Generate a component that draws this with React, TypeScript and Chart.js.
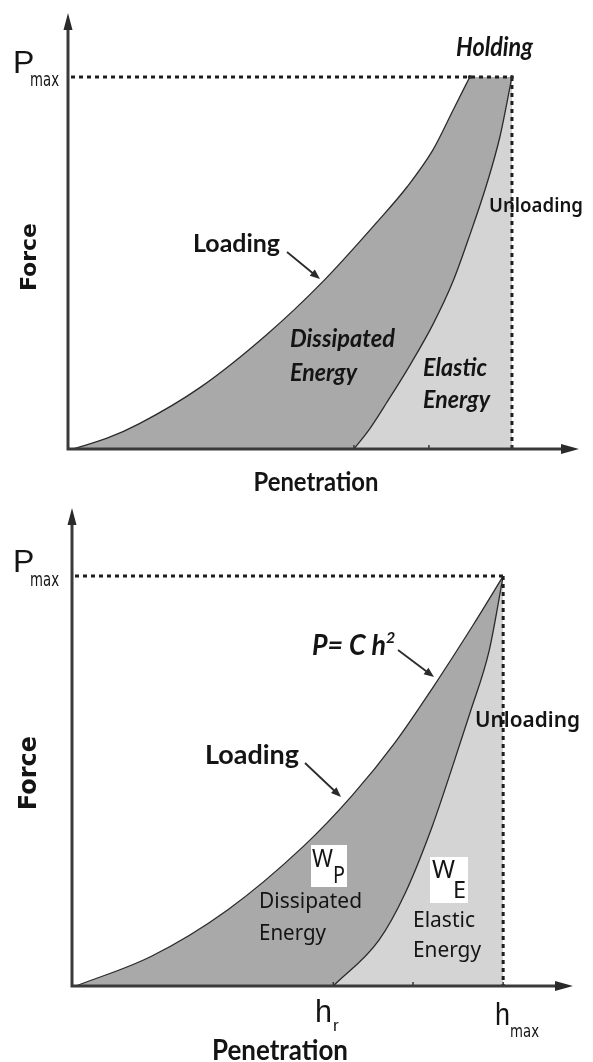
import { useEffect, useRef } from "react";
import { Chart, registerables } from "chart.js";

Chart.register(...registerables);

// ---- Upper diagram: load / hold / unload cycle (penetration h, force P; h_max = P_max = 100) ----
const holdLoadingH = [1.1, 8.8, 16.2, 29.7, 44.8, 57.4, 69.6, 76.4, 82.2, 86.7, 90.5];
const holdLoadingP = [0, 2.9, 6.9, 16.5, 30.8, 45.0, 61.0, 70.5, 80.4, 91.0, 100];
// holding at P_max (starts just inside the end of the loading branch so the fills join)
const holdingH = [89.6, 90.5, 100];
const holdingP = [97.6, 100, 100];
const holdUnloadingH = [64.4, 68.0, 71.8, 77.0, 82.2, 86.7, 90.5, 94.4, 97.3, 100];
const holdUnloadingP = [0, 5.5, 12.5, 22.5, 33.5, 45.0, 57.5, 71.5, 84.0, 100];
const holdTicksH = [64.4, 81.3, 100];

// ---- Lower diagram: load (P = C h^2) / unload cycle ----
const loadingH = [0.9, 18.3, 36.0, 53.6, 65.0, 75.0, 83.5, 93.0, 100];
const loadingP = [0, 7.2, 18.5, 34.0, 46.5, 59.5, 72.5, 88.0, 100];
const unloadingH = [60.6, 71.2, 77.3, 83.5, 88.4, 92.3, 96.8, 100];
const unloadingP = [0, 11.2, 22.7, 38.8, 54.0, 66.6, 82.0, 100];
const ticksH = [60.6, 79.1, 100];

const H_MAX = 100;
const P_MAX = 100;

const DARK_FILL = "#a9a9a9";
const LIGHT_FILL = "#d4d4d4";
const INK = "#2b2b2b";

type Label = {
  text: string;
  x: number;
  y: number;
  font: string;
  w?: number;
  align?: CanvasTextAlign;
  rotate?: boolean;
};
type BoxRect = { x: number; y: number; w: number; h: number };
type Arrow = { x1: number; y1: number; x2: number; y2: number };

type Panel = {
  width: number;
  height: number;
  padding: { left: number; right: number; top: number; bottom: number };
  xMax: number;
  yMax: number;
  loadH: number[];
  loadP: number[];
  holdH: number[];
  holdP: number[];
  unloadH: number[];
  unloadP: number[];
  ticks: number[];
  labels: Label[];
  boxes: BoxRect[];
  arrows: Arrow[];
};

const pts = (xs: number[], ys: number[]) => xs.map((x, i) => ({ x, y: ys[i] }));

const BOLD = (s: number) => `bold ${s}px Lato, "Open Sans", sans-serif`;
const WIDEBOLD = (s: number) => `bold ${s}px "DejaVu Sans", Verdana, sans-serif`;
const ITAL = (s: number) => `italic bold ${s}px Lato, "Open Sans", sans-serif`;
const REG = (s: number) => `${s}px "Noto Sans", "DejaVu Sans", sans-serif`;
const SEMI = (s: number) => `600 ${s}px "Noto Sans", "Open Sans", sans-serif`;
const THIN = (s: number) => `${s}px "Liberation Sans", Arial, sans-serif`;
const NARROW = (s: number) => `${s}px "Liberation Sans Narrow", "DejaVu Sans Condensed", sans-serif`;

const topPanel: Panel = {
  width: 593,
  height: 500,
  padding: { left: 68, right: 14, top: 13, bottom: 51 },
  xMax: 115.1,
  yMax: 117.2,
  loadH: holdLoadingH,
  loadP: holdLoadingP,
  holdH: holdingH,
  holdP: holdingP,
  unloadH: holdUnloadingH,
  unloadP: holdUnloadingP,
  ticks: holdTicksH,
  labels: [
    { text: "P", x: 13, y: 73, font: THIN(32) },
    { text: "max", x: 30, y: 86, font: NARROW(19), w: 29 },
    { text: "Holding", x: 456, y: 56, font: ITAL(26), w: 77 },
    { text: "Unloading", x: 489, y: 212, font: SEMI(20), w: 94 },
    { text: "Loading", x: 193, y: 252, font: BOLD(25), w: 87 },
    { text: "Force", x: 30, y: 257, font: WIDEBOLD(22), w: 73, align: "center", rotate: true },
    { text: "Penetration", x: 316, y: 491, font: BOLD(26), w: 125, align: "center" },
    { text: "Dissipated", x: 290, y: 347, font: ITAL(25), w: 105 },
    { text: "Energy", x: 290, y: 381, font: ITAL(25), w: 67 },
    { text: "Elastic", x: 423, y: 376, font: ITAL(25), w: 64 },
    { text: "Energy", x: 423, y: 408, font: ITAL(25), w: 67 },
  ],
  boxes: [],
  arrows: [{ x1: 287, y1: 252, x2: 320, y2: 279 }],
};

const bottomPanel: Panel = {
  width: 593,
  height: 562,
  padding: { left: 72, right: 20, top: 8, bottom: 76 },
  xMax: 116.2,
  yMax: 116.6,
  loadH: loadingH,
  loadP: loadingP,
  holdH: [],
  holdP: [],
  unloadH: unloadingH,
  unloadP: unloadingP,
  ticks: ticksH,
  labels: [
    { text: "P", x: 13, y: 72, font: THIN(32) },
    { text: "max", x: 30, y: 86, font: NARROW(19), w: 29 },
    { text: "P= C h", x: 312, y: 155, font: ITAL(28), w: 74 },
    { text: "2", x: 386, y: 143, font: ITAL(16) },
    { text: "Unloading", x: 475, y: 227, font: SEMI(21), w: 105 },
    { text: "Loading", x: 205, y: 264, font: BOLD(27), w: 94 },
    { text: "Force", x: 30, y: 273, font: WIDEBOLD(24), w: 80, align: "center", rotate: true },
    { text: "W", x: 312, y: 367, font: REG(26), w: 21 },
    { text: "P", x: 333, y: 383, font: REG(24), w: 12 },
    { text: "Dissipated", x: 259, y: 408, font: REG(22), w: 103 },
    { text: "Energy", x: 259, y: 440, font: REG(22), w: 67 },
    { text: "W", x: 432, y: 378, font: REG(26), w: 23 },
    { text: "E", x: 453, y: 398, font: REG(24), w: 13 },
    { text: "Elastic", x: 413, y: 427, font: REG(22), w: 62 },
    { text: "Energy", x: 413, y: 457, font: REG(22), w: 68 },
    { text: "h", x: 315, y: 522, font: THIN(31), w: 17 },
    { text: "r", x: 333, y: 531, font: THIN(17) },
    { text: "h", x: 495, y: 525, font: THIN(31), w: 15 },
    { text: "max", x: 510, y: 537, font: NARROW(17), w: 29 },
    { text: "Penetration", x: 280, y: 560, font: BOLD(28), w: 136, align: "center" },
  ],
  boxes: [
    { x: 311, y: 345, w: 36, h: 42 },
    { x: 430, y: 357, w: 38, h: 46 },
  ],
  arrows: [
    { x1: 398, y1: 150, x2: 434, y2: 177 },
    { x1: 305, y1: 263, x2: 341, y2: 297 },
  ],
};

function drawArrow(ctx: CanvasRenderingContext2D, a: Arrow, len = 10, half = 4) {
  const ang = Math.atan2(a.y2 - a.y1, a.x2 - a.x1);
  ctx.strokeStyle = INK;
  ctx.fillStyle = INK;
  ctx.lineWidth = 1.8;
  ctx.beginPath();
  ctx.moveTo(a.x1, a.y1);
  ctx.lineTo(a.x2 - Math.cos(ang) * len * 0.8, a.y2 - Math.sin(ang) * len * 0.8);
  ctx.stroke();
  ctx.beginPath();
  ctx.moveTo(a.x2, a.y2);
  ctx.lineTo(
    a.x2 - Math.cos(ang) * len - Math.sin(ang) * half,
    a.y2 - Math.sin(ang) * len + Math.cos(ang) * half
  );
  ctx.lineTo(
    a.x2 - Math.cos(ang) * len + Math.sin(ang) * half,
    a.y2 - Math.sin(ang) * len - Math.cos(ang) * half
  );
  ctx.closePath();
  ctx.fill();
}

function schematicPlugin(panel: Panel) {
  return {
    id: "schematic",
    afterDatasetsDraw(chart: Chart) {
      const ctx = chart.ctx;
      const xs = chart.scales.x;
      const ys = chart.scales.y;
      const area = chart.chartArea;
      const x0 = xs.getPixelForValue(0);
      const y0 = ys.getPixelForValue(0);
      const xh = xs.getPixelForValue(H_MAX);
      const yp = ys.getPixelForValue(P_MAX);
      ctx.save();

      // dashed guides at P_max and h_max
      ctx.strokeStyle = "#1e1e1e";
      ctx.lineWidth = 3;
      ctx.setLineDash([4, 4]);
      ctx.beginPath();
      ctx.moveTo(x0 + 3, yp);
      ctx.lineTo(xh, yp);
      ctx.moveTo(xh, yp);
      ctx.lineTo(xh, y0);
      ctx.stroke();
      ctx.setLineDash([]);

      // axes with arrow heads
      ctx.strokeStyle = "#3a3a3a";
      ctx.fillStyle = "#2a2a2a";
      ctx.lineWidth = 3;
      ctx.beginPath();
      ctx.moveTo(x0, y0 + 1.5);
      ctx.lineTo(x0, area.top + 12);
      ctx.moveTo(x0 - 1.5, y0);
      ctx.lineTo(area.right - 14, y0);
      ctx.stroke();
      ctx.beginPath();
      ctx.moveTo(x0, area.top);
      ctx.lineTo(x0 - 4.5, area.top + 17);
      ctx.lineTo(x0 + 4.5, area.top + 17);
      ctx.closePath();
      ctx.fill();
      ctx.beginPath();
      ctx.moveTo(area.right, y0);
      ctx.lineTo(area.right - 18, y0 - 5);
      ctx.lineTo(area.right - 18, y0 + 5);
      ctx.closePath();
      ctx.fill();

      // small ticks on the penetration axis
      ctx.lineWidth = 1.5;
      ctx.beginPath();
      panel.ticks.forEach((t) => {
        const px = xs.getPixelForValue(t);
        ctx.moveTo(px, y0 - 4);
        ctx.lineTo(px, y0);
      });
      ctx.stroke();

      // end points of the holding segment
      if (panel.holdH.length) {
        ctx.fillStyle = INK;
        const n = panel.loadH.length - 1;
        [
          [panel.loadH[n], panel.loadP[n]],
          [H_MAX, P_MAX],
        ].forEach(([h, p]) => {
          ctx.beginPath();
          ctx.arc(xs.getPixelForValue(h), ys.getPixelForValue(p), 2, 0, Math.PI * 2);
          ctx.fill();
        });
      }

      // white boxes behind the work symbols
      ctx.fillStyle = "#ffffff";
      panel.boxes.forEach((b) => ctx.fillRect(b.x, b.y, b.w, b.h));

      panel.arrows.forEach((a) => drawArrow(ctx, a));

      ctx.fillStyle = "#141414";
      ctx.textBaseline = "alphabetic";
      panel.labels.forEach((l) => {
        ctx.font = l.font;
        ctx.textAlign = l.align || "left";
        if (l.rotate) {
          ctx.save();
          ctx.translate(l.x, l.y);
          ctx.rotate(-Math.PI / 2);
          ctx.textBaseline = "middle";
          if (l.w) ctx.fillText(l.text, 0, 0, l.w);
          else ctx.fillText(l.text, 0, 0);
          ctx.restore();
        } else if (l.w) {
          ctx.fillText(l.text, l.x, l.y, l.w);
        } else {
          ctx.fillText(l.text, l.x, l.y);
        }
      });
      ctx.restore();
    },
  };
}

function IndentationPanel({ panel }: { panel: Panel }) {
  const ref = useRef<HTMLCanvasElement | null>(null);
  useEffect(() => {
    if (!ref.current) return;
    const curve = {
      borderColor: INK,
      borderWidth: 1.3,
      fill: "origin" as const,
      pointRadius: 0,
      cubicInterpolationMode: "monotone" as const,
      clip: false as const,
    };
    const datasets: any[] = [
      { ...curve, label: "Unloading", data: pts(panel.unloadH, panel.unloadP), backgroundColor: LIGHT_FILL, order: 1 },
      { ...curve, label: "Loading", data: pts(panel.loadH, panel.loadP), backgroundColor: DARK_FILL, order: 2 },
    ];
    if (panel.holdH.length) {
      datasets.push({
        ...curve,
        label: "Holding",
        data: pts(panel.holdH, panel.holdP),
        backgroundColor: DARK_FILL,
        borderWidth: 0,
        cubicInterpolationMode: "default",
        tension: 0,
        order: 3,
      });
    }
    const chart = new Chart(ref.current, {
      type: "line",
      data: { datasets },
      options: {
        animation: false,
        responsive: false,
        maintainAspectRatio: false,
        events: [],
        layout: { padding: panel.padding },
        scales: {
          x: { type: "linear", min: 0, max: panel.xMax, display: false },
          y: { type: "linear", min: 0, max: panel.yMax, display: false },
        },
        plugins: {
          legend: { display: false },
          tooltip: { enabled: false },
        },
      },
      plugins: [schematicPlugin(panel)],
    });
    return () => chart.destroy();
  }, [panel]);
  return (
    <canvas
      ref={ref}
      width={panel.width}
      height={panel.height}
      style={{ display: "block", width: panel.width, height: panel.height }}
    />
  );
}

export default function App() {
  return (
    <div style={{ position: "absolute", left: 0, top: 0, width: 593, height: 1062, background: "#ffffff" }}>
      <IndentationPanel panel={topPanel} />
      <IndentationPanel panel={bottomPanel} />
    </div>
  );
}
